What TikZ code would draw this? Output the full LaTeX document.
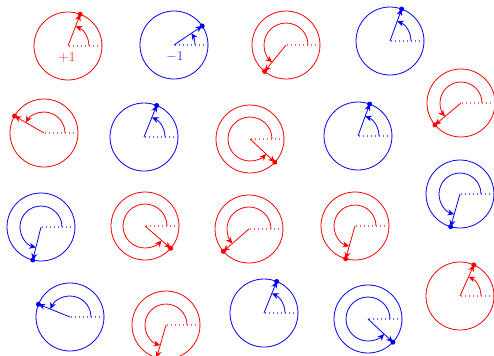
\documentclass[tikz,border=0pt]{standalone}
\usetikzlibrary{arrows.meta}
\definecolor{vred}{RGB}{255,0,0}
\definecolor{vblue}{RGB}{0,0,255}
\tikzset{
  tip/.style={-{Stealth[length=5,width=4.5]}},
  dotline/.style={line width=0.8pt, dash pattern=on 1pt off 2pt},
}
\newcommand\vtx[4]{%
  \begin{scope}[shift={(#2)}, line width=0.6pt]
    \draw[#1] (0,0) circle[radius=34];
    \draw[#1!60, dotline] (1,0) -- (34,0);
    \draw[#1, tip] (0,0) -- (#3:34);
    \fill[#1] (#3:34) circle[radius=2.5];
    \draw[#1, tip] (0:#4) arc[start angle=0, end angle=#3, radius=#4];
  \end{scope}}
\begin{document}
\begin{tikzpicture}[x=0.75pt,y=0.75pt]
\useasboundingbox (0,0) rectangle (494,-355);
\vtx{vred}{68,-46}{69}{21}
\node[vred!80, inner sep=0] (lp) at (67,-58) {$+1$};
\vtx{vblue}{174,-45}{34}{21}
\node[vblue!80, inner sep=0] (lm) at (175,-57) {$-1$};
\vtx{vred}{286,-45}{231}{22}
\vtx{vblue}{390,-41}{70}{21}
\vtx{vred}{461,-103}{220}{21}
\vtx{vred}{44,-133}{150}{21}
\vtx{vblue}{144,-137}{68}{21}
\vtx{vred}{250,-139}{317}{22}
\vtx{vblue}{358,-136}{70}{21}
\vtx{vblue}{460,-194}{254}{21}
\vtx{vblue}{41,-227}{256}{21}
\vtx{vred}{145,-226}{319}{22}
\vtx{vred}{249,-229}{221}{22}
\vtx{vred}{355,-226}{254}{21}
\vtx{vred}{460,-296}{66}{21}
\vtx{vblue}{70,-317}{158}{21}
\vtx{vred}{166,-325}{254}{21}
\vtx{vblue}{264,-313}{68}{21}
\vtx{vblue}{368,-319}{317}{22}
\end{tikzpicture}
\end{document}
